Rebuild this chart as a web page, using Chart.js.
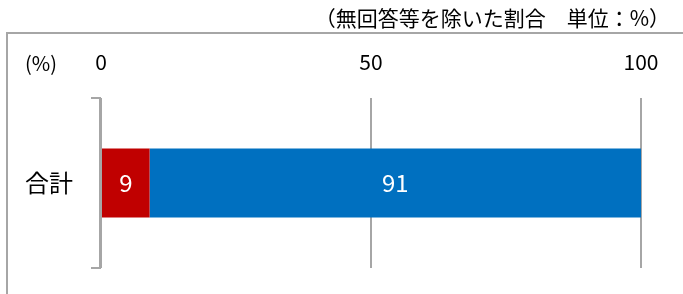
<!DOCTYPE html>
<html>
<head>
<meta charset="utf-8">
<script src="https://cdn.jsdelivr.net/npm/chart.js@4/dist/chart.umd.min.js"></script>
<style>
  body { margin: 0; background: #fff; }
  #wrap { width: 683px; height: 294px; }
</style>
</head>
<body>
<div id="wrap"><canvas id="myChart" width="683" height="294"></canvas></div>
<script>
// データ
const categories = ['合計'];
const seriesRed = [9];
const seriesBlue = [91];
const axisMin = 0;
const axisMax = 100;
const axisStep = 50;
const noteText = '（無回答等を除いた割合　単位：%）';
const unitText = '(%)';

const jpFont = "'Noto Sans CJK JP', 'Noto Sans', sans-serif";
const lineGray = '#a6a6a6';

// 枠線・注記・ブラケット・数値ラベル
const decorPlugin = {
    id: 'decor',
    beforeDraw(chart) {
        const ctx = chart.ctx;
        ctx.save();
        ctx.strokeStyle = lineGray;
        ctx.lineWidth = 2;
        ctx.beginPath();
        ctx.moveTo(7, 294);
        ctx.lineTo(7, 33);
        ctx.lineTo(683, 33);
        ctx.stroke();

        ctx.fillStyle = '#000';
        ctx.font = '21px ' + jpFont;
        ctx.textAlign = 'right';
        ctx.textBaseline = 'middle';
        ctx.fillText(noteText, 670, 18);

        ctx.font = '20px ' + jpFont;
        ctx.textAlign = 'left';
        ctx.fillText(unitText, 25, 63);
        ctx.restore();
    },
    afterDatasetsDraw(chart) {
        const ctx = chart.ctx;
        const area = chart.chartArea;
        const x0 = chart.scales.x.getPixelForValue(axisMin) - 1;
        ctx.save();
        ctx.strokeStyle = lineGray;
        ctx.lineWidth = 2;
        ctx.beginPath();
        ctx.moveTo(x0 - 9, area.top);
        ctx.lineTo(x0, area.top);
        ctx.lineTo(x0, area.bottom);
        ctx.lineTo(x0 - 9, area.bottom);
        ctx.stroke();

        ctx.fillStyle = '#fff';
        ctx.font = '24px ' + jpFont;
        ctx.textAlign = 'center';
        ctx.textBaseline = 'middle';
        chart.data.datasets.forEach((ds, i) => {
            chart.getDatasetMeta(i).data.forEach((bar, j) => {
                ctx.fillText(String(ds.data[j]), (bar.x + bar.base) / 2, bar.y);
            });
        });
        ctx.restore();
    }
};

const ctx = document.getElementById('myChart').getContext('2d');
new Chart(ctx, {
    type: 'bar',
    data: {
        labels: categories,
        datasets: [
            { data: seriesRed, backgroundColor: '#c00000', borderWidth: 0 },
            { data: seriesBlue, backgroundColor: '#0070c0', borderWidth: 0 }
        ]
    },
    options: {
        indexAxis: 'y',
        responsive: false,
        animation: false,
        barPercentage: 0.406,
        categoryPercentage: 1,
        layout: { padding: { top: 40, right: 42, bottom: 26, left: 0 } },
        plugins: {
            legend: { display: false },
            tooltip: { enabled: false }
        },
        scales: {
            x: {
                position: 'top',
                stacked: true,
                min: axisMin,
                max: axisMax,
                ticks: { stepSize: axisStep, padding: 23, color: '#000', font: { size: 21, family: jpFont } },
                grid: { color: lineGray, lineWidth: 2, drawTicks: false },
                border: { display: false },
                afterFit: s => { s.height = 58; }
            },
            y: {
                stacked: true,
                ticks: { padding: 28, color: '#000', font: { size: 24, family: jpFont } },
                grid: { display: false, drawTicks: false },
                border: { display: false },
                afterFit: s => {
                    s.width = 101;
                    s.paddingTop = 0;
                    s.paddingBottom = 0;
                }
            }
        }
    },
    plugins: [decorPlugin]
});
</script>
</body>
</html>
